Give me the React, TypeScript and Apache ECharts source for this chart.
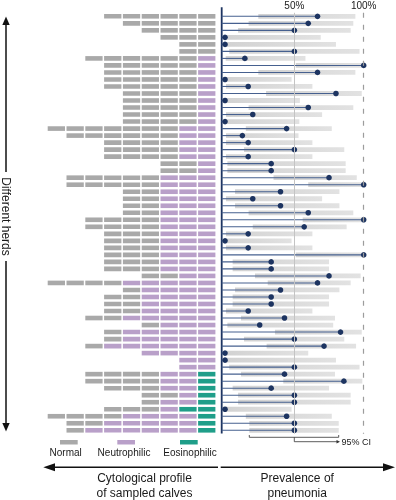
import React, { useEffect, useRef } from 'react';
import * as echarts from 'echarts';

// ---- data (one entry per herd, top to bottom) ----
const normalCounts = [6,5,4,3,2,2,6,5,5,5,5,4,4,4,4,4,7,6,4,4,4,2,2,5,5,2,2,2,2,4,4,3,3,3,3,3,3,2,4,1,2,2,2,2,1,1,1,1,0,0,0,4,4,3,2,1,3,4,2,1];
const neutrophilicCounts = [0,0,0,0,0,0,1,1,1,1,1,1,1,1,1,1,2,2,2,2,2,1,1,3,3,3,3,3,3,3,3,3,3,3,3,3,3,2,5,4,4,4,4,5,3,5,5,6,4,2,2,2,2,2,1,2,1,4,5,6];
const eosinophilicCounts = [0,0,0,0,0,0,0,0,0,0,0,0,0,0,0,0,0,0,0,0,0,0,0,0,0,0,0,0,0,0,0,0,0,0,0,0,0,0,0,0,0,0,0,0,0,0,0,0,0,0,0,1,1,1,1,1,2,1,1,1];
const prevalence = [66.7,60,50,0,0,50,14.3,100,66.7,0,16.7,80,0,60,20,0,44.4,12.5,16.7,50,16.7,33.3,33.3,75,100,40,20,40,60,100,57.1,16.7,0,16.7,100,33.3,33.3,75,66.7,40,33.3,33.3,16.7,42.9,25,83.3,50,71.4,0,0,50,42.9,85.7,33.3,50,50,0,44.4,50,50];
const ciLower = [24,17,9.4,0.7,0.7,3,0.5,51,24,0.5,0.7,29.6,0.7,17,0.7,0.7,15,0.7,0.7,13.7,0.7,1.7,1.7,35,60,7.2,0.7,7.2,17,56,20,0.7,0.7,0.7,51,5.5,5.5,21.6,30.8,7.2,5.5,5.5,0.7,11.5,1.7,36,13.7,30,0.7,0.7,3,11.5,42,5.5,9.4,9.4,0.5,15,17.5,17.5];
const ciUpper = [94,92.5,90.6,69,80,97,58,100,94,48,63,98.6,54,92.5,70,53.6,77,53,63,86,63,87,87,95,100,82.5,70,82.5,92.5,100,87.7,63,48,63,100,75,75,97.8,90.6,82.5,75,75,63,79.3,78,98.6,86,94.5,60,80,97,79.3,99,75,90.6,90.6,48,77,82,82];
const columns = ['1','2','3','4','5','6','7','8','9'];
const percentTicks = [50, 100];
const profileNames = ['Normal', 'Neutrophilic', 'Eosinophilic'];
const herds = normalCounts.map((_, i) => 'Herd ' + (i + 1));

const FONT = "'Liberation Sans', Arial, Helvetica, sans-serif";
const cellColors = ['#a9a9a9', '#b9a0c9', '#1f9e89'];
const navy = '#1d3461';

export default function App() {
  const ref = useRef<HTMLDivElement>(null);
  useEffect(() => {
    if (!ref.current) return;
    const chart = echarts.init(ref.current, null, { renderer: 'svg' });

    const cellData: number[][] = [];
    herds.forEach((_, r) => {
      const e = eosinophilicCounts[r];
      const n = neutrophilicCounts[r];
      const total = normalCounts[r] + n + e;
      for (let j = 0; j < total; j++) {
        const type = j < e ? 2 : j < e + n ? 1 : 0;
        cellData.push([columns.length - 1 - j, r, type]);
      }
    });
    const ciData = herds.map((_, i) => [ciLower[i], ciUpper[i], i]);
    const prevData = herds.map((_, i) => [prevalence[i], i]);

    const gridTop = 12.8;
    const gridHeight = 421;

    const textStyle = (t: string, x: number, y: number, size: number, align = 'center') => ({
      type: 'text', x, y, silent: true,
      style: { text: t, fontFamily: FONT, fontSize: size, fill: '#1a1a1a', align, verticalAlign: 'middle' },
    });

    const legendX = [60, 117.3, 180];
    const legendTextX = [65.7, 124, 190];

    chart.setOption({
      animation: false,
      grid: [
        { left: 46.95, width: 169.2, top: gridTop, height: gridHeight },
        { left: 221.7, width: 142, top: gridTop, height: gridHeight },
      ],
      xAxis: [
        { type: 'category', gridIndex: 0, data: columns, show: false },
        {
          type: 'value', gridIndex: 1, min: -2.4, max: 100, position: 'top',
          axisLine: { show: false }, axisTick: { show: false }, splitLine: { show: false },
          axisLabel: { customValues: percentTicks, formatter: '{value}%', fontSize: 10, fontFamily: FONT, color: '#1a1a1a', margin: 2 },
        },
      ],
      yAxis: [
        { type: 'category', gridIndex: 0, data: herds, inverse: true, show: false },
        { type: 'category', gridIndex: 1, data: herds, inverse: true, show: false },
      ],
      series: [
        {
          type: 'custom', name: 'cells', xAxisIndex: 0, yAxisIndex: 0, silent: true,
          encode: { x: 0, y: 1 },
          data: cellData,
          renderItem: (params: any, api: any) => {
            const c = api.coord([api.value(0), api.value(1)]);
            const s = api.size([1, 1]);
            const w = s[0] - 1.5;
            const h = s[1] * 0.66;
            return { type: 'rect', shape: { x: c[0] - w / 2, y: c[1] - h / 2, width: w, height: h }, style: { fill: cellColors[api.value(2)] } };
          },
        },
        {
          type: 'line', name: 'refs', xAxisIndex: 1, yAxisIndex: 1, data: [], z: 1, silent: true,
          markLine: {
            silent: true, symbol: 'none', label: { show: false },
            data: [
              { xAxis: 50, lineStyle: { color: '#c4c4c4', type: 'solid', width: 1 } },
              { xAxis: 100, lineStyle: { color: '#9c9c9c', type: [5, 7], width: 1.2 } },
            ],
          },
        },
        {
          type: 'custom', name: 'ci', xAxisIndex: 1, yAxisIndex: 1, z: 2, silent: true,
          encode: { x: [0, 1], y: 2 },
          data: ciData,
          renderItem: (params: any, api: any) => {
            const p0 = api.coord([api.value(0), api.value(2)]);
            const p1 = api.coord([api.value(1), api.value(2)]);
            const h = api.size([0, 1])[1] * 0.68;
            return {
              type: 'rect',
              shape: { x: p0[0], y: p0[1] - h / 2, width: p1[0] - p0[0], height: h },
              style: {
                fill: new echarts.graphic.LinearGradient(0, 0, 1, 0, [
                  { offset: 0, color: '#d2d2d2' },
                  { offset: 1, color: '#e2e2e2' },
                ]),
              },
            };
          },
        },
        {
          type: 'custom', name: 'stems', xAxisIndex: 1, yAxisIndex: 1, z: 3, silent: true,
          encode: { x: 0, y: 1 },
          data: prevData,
          renderItem: (params: any, api: any) => {
            const p = api.coord([api.value(0), api.value(1)]);
            return {
              type: 'line',
              shape: { x1: params.coordSys.x, y1: p[1], x2: p[0], y2: p[1] },
              style: { stroke: '#46608f', lineWidth: 1.1 },
            };
          },
        },
        {
          type: 'scatter', name: 'prevalence', xAxisIndex: 1, yAxisIndex: 1, z: 4, silent: true,
          data: prevData, symbolSize: 5.6, itemStyle: { color: navy, opacity: 1 },
        },
      ],
      graphic: [
        // prevalence axis
        { type: 'line', silent: true, shape: { x1: 221.7, y1: 7.3, x2: 221.7, y2: 433.5 }, style: { stroke: navy, lineWidth: 1.8 } },
        // herds arrow
        { type: 'line', silent: true, shape: { x1: 6, y1: 22, x2: 6, y2: 172 }, style: { stroke: '#111', lineWidth: 1.5 } },
        { type: 'line', silent: true, shape: { x1: 6, y1: 261, x2: 6, y2: 425 }, style: { stroke: '#111', lineWidth: 1.5 } },
        { type: 'polygon', silent: true, shape: { points: [[6, 16.5], [2.3, 25], [9.7, 25]] }, style: { fill: '#111' } },
        { type: 'polygon', silent: true, shape: { points: [[6, 431.5], [2.3, 423], [9.7, 423]] }, style: { fill: '#111' } },
        { ...textStyle('Different herds', 6, 216.5, 12), rotation: -Math.PI / 2 },
        // legend
        ...profileNames.map((name, i) => ({ type: 'rect', silent: true, shape: { x: legendX[i], y: 440, width: 17.7, height: 4.5 }, style: { fill: cellColors[i] } })),
        ...profileNames.map((name, i) => textStyle(name, legendTextX[i], 452, 10)),
        // bottom arrows
        { type: 'line', silent: true, shape: { x1: 52, y1: 467.3, x2: 218, y2: 467.3 }, style: { stroke: '#111', lineWidth: 1.6 } },
        { type: 'polygon', silent: true, shape: { points: [[43.3, 467.3], [55, 463.3], [55, 471.3]] }, style: { fill: '#111' } },
        { type: 'line', silent: true, shape: { x1: 220.7, y1: 467.3, x2: 385, y2: 467.3 }, style: { stroke: '#111', lineWidth: 1.6 } },
        { type: 'polygon', silent: true, shape: { points: [[395, 467.3], [383, 463.3], [383, 471.3]] }, style: { fill: '#111' } },
        textStyle('Cytological profile', 144.5, 477.5, 12),
        textStyle('of sampled calves', 144.5, 492.5, 12),
        textStyle('Prevalence of', 297.2, 477.5, 12),
        textStyle('pneumonia', 297.2, 492.5, 12),
        // 95% CI annotation
        { type: 'polyline', silent: true, shape: { points: [[249.3, 435], [249.3, 437.3], [338.7, 437.3], [338.7, 435]] }, style: { stroke: '#333', lineWidth: 0.8, fill: null } },
        { type: 'polyline', silent: true, shape: { points: [[294.3, 437.3], [294.3, 441.7], [337, 441.7]] }, style: { stroke: '#333', lineWidth: 0.8, fill: null } },
        { type: 'polygon', silent: true, shape: { points: [[336.5, 440], [340, 441.7], [336.5, 443.4]] }, style: { fill: '#333' } },
        textStyle('95% CI', 341.5, 442, 9, 'left'),
      ],
    });
    return () => chart.dispose();
  }, []);
  return <div ref={ref} style={{ position: 'fixed', left: 0, top: 0, width: 396, height: 500 }} />;
}
